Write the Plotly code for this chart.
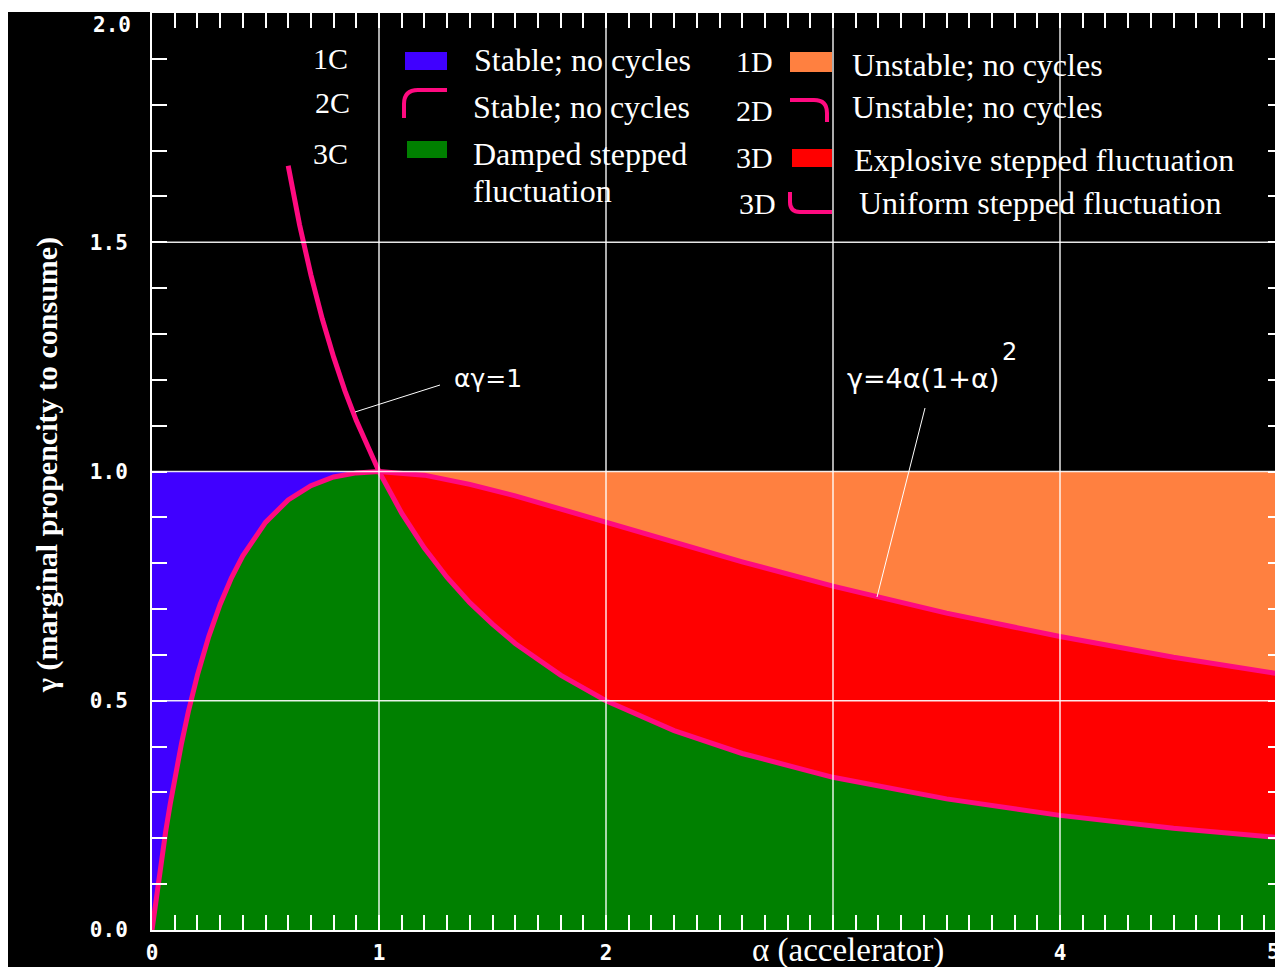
import plotly.graph_objects as go

# ---------------- data ----------------
# boundary curve  gamma = 4a/(1+a)^2
alpha_c = [0, 0.01, 0.02, 0.04, 0.06, 0.08, 0.1, 0.13, 0.16, 0.2, 0.25, 0.3, 0.35, 0.4,
           0.5, 0.6, 0.7, 0.8, 0.9, 1.0, 1.2, 1.4, 1.6, 1.8, 2.0, 2.3, 2.6, 3.0, 3.5,
           4.0, 4.5, 5.0]
gamma_c = [0, 0.039, 0.077, 0.148, 0.214, 0.274, 0.331, 0.407, 0.476, 0.556, 0.64,
           0.710, 0.768, 0.816, 0.889, 0.938, 0.969, 0.988, 0.997, 1.0, 0.992, 0.972,
           0.947, 0.918, 0.889, 0.845, 0.803, 0.75, 0.691, 0.64, 0.595, 0.556]
# boundary curve  alpha*gamma = 1
alpha_h = [0.6, 0.65, 0.7, 0.75, 0.8, 0.85, 0.9, 0.95, 1.0, 1.1, 1.2, 1.3, 1.4, 1.5,
           1.6, 1.8, 2.0, 2.3, 2.6, 3.0, 3.5, 4.0, 4.5, 5.0]
gamma_h = [1.667, 1.538, 1.429, 1.333, 1.25, 1.176, 1.111, 1.053, 1.0, 0.909, 0.833,
           0.769, 0.714, 0.667, 0.625, 0.556, 0.5, 0.435, 0.385, 0.333, 0.286, 0.25,
           0.222, 0.2]
gamma_top = 1.0          # upper limit of the coloured regions
alpha_max = 5.0

x_tick_vals = [0, 1, 2, 3, 4]
x_tick_text = ["0", "1", "2", "", "4"]
y_tick_vals = [0, 0.5, 1.0, 1.5]
y_tick_text = ["0.0", "0.5", "1.0", "1.5"]
y_top_label = "2.0"
x_last_label = "5"

legend_codes = ["1C", "2C", "3C", "1D", "2D", "3D", "3D"]
legend_texts = ["Stable; no cycles", "Stable; no cycles", "Damped stepped",
                "Unstable; no cycles", "Unstable; no cycles",
                "Explosive stepped fluctuation", "Uniform stepped fluctuation"]

# ---------------- styling ----------------
BLUE = "#4000ff"
GREEN = "#008000"
RED = "#ff0000"
ORANGE = "#ff8040"
PINK = "#ff0a80"
WHITE = "white"
SERIF = "Liberation Serif"
MONO = "DejaVu Sans Mono"

W, H = 1275, 959
ML, MR, MT, MB = 144, 0, 5, 37
X_END = 4.9824


def pxp(px):   # page pixel x -> paper
    return (px - 152) / 1131.0


def pyp(py):   # page pixel y -> paper
    return (930 - py) / 917.0


# ---------------- build regions from the curves ----------------
left_a = [a for a in alpha_c if a <= 1]
left_g = [g for a, g in zip(alpha_c, gamma_c) if a <= 1]
right_a = [a for a in alpha_c if a >= 1]
right_g = [g for a, g in zip(alpha_c, gamma_c) if a >= 1]
hr_a = [a for a in alpha_h if a >= 1]
hr_g = [g for a, g in zip(alpha_h, gamma_h) if a >= 1]

fig = go.Figure()


def region(xs, ys, color):
    fig.add_trace(go.Scatter(x=xs, y=ys, fill="toself", fillcolor=color, mode="lines",
                             line=dict(width=0, color=color), hoverinfo="skip",
                             showlegend=False))


# blue: above curve, alpha < 1
region(left_a + [0], left_g + [gamma_top], BLUE)
# green: below curve (alpha<1) and below hyperbola (alpha>1)
region(left_a + hr_a + [alpha_max, 0], left_g + hr_g + [0, 0], GREEN)
# red: between hyperbola and curve, alpha > 1
region(hr_a + right_a[::-1], hr_g + right_g[::-1], RED)
# orange: between curve and 1, alpha > 1
region(right_a + [alpha_max], right_g + [gamma_top], ORANGE)

# pink boundary curves
fig.add_trace(go.Scatter(x=alpha_c, y=gamma_c, mode="lines",
                         line=dict(color=PINK, width=5), hoverinfo="skip", showlegend=False))
fig.add_trace(go.Scatter(x=alpha_h, y=gamma_h, mode="lines",
                         line=dict(color=PINK, width=5), hoverinfo="skip", showlegend=False))

shapes = []
# grid lines (above fills)
for xv in [1, 2, 3, 4]:
    shapes.append(dict(type="line", xref="x", yref="y", x0=xv, x1=xv, y0=0, y1=2,
                       line=dict(color="rgba(255,255,255,0.9)", width=1.5), layer="above"))
for yv in [0.5, 1.0, 1.5]:
    shapes.append(dict(type="line", xref="x", yref="y", x0=0, x1=alpha_max, y0=yv, y1=yv,
                       line=dict(color="rgba(255,255,255,0.9)", width=1.5), layer="above"))

# leader lines
shapes.append(dict(type="line", xref="paper", yref="paper", x0=pxp(355), y0=pyp(412),
                   x1=pxp(440), y1=pyp(385), line=dict(color=WHITE, width=1), layer="above"))
shapes.append(dict(type="line", xref="paper", yref="paper", x0=pxp(925), y0=pyp(408),
                   x1=pxp(877), y1=pyp(597), line=dict(color=WHITE, width=1), layer="above"))

# top white strip of page
shapes.append(dict(type="rect", xref="paper", yref="paper", x0=pxp(0), x1=1.01,
                   y0=pyp(12), y1=pyp(0), fillcolor=WHITE, line=dict(width=0), layer="below"))


def rect_px(x0, y0, x1, y1, color):
    shapes.append(dict(type="rect", xref="paper", yref="paper", x0=pxp(x0), x1=pxp(x1),
                       y0=pyp(y1), y1=pyp(y0), fillcolor=color, line=dict(width=0),
                       layer="above"))


def path_px(cmds):
    parts = []
    for c in cmds:
        op = c[0]
        nums = c[1:]
        pts = []
        for i in range(0, len(nums), 2):
            pts.append("%.5f,%.5f" % (pxp(nums[i]), pyp(nums[i + 1])))
        parts.append(op + " " + " ".join(pts))
    shapes.append(dict(type="path", xref="paper", yref="paper", path=" ".join(parts),
                       line=dict(color=PINK, width=4), layer="above"))


# legend swatches
rect_px(405, 52, 447, 70, BLUE)
path_px([("M", 404, 118), ("L", 404, 104), ("Q", 404, 90, 418, 90), ("L", 447, 90)])
rect_px(407, 141, 447, 158, GREEN)
rect_px(790, 52, 832, 72, ORANGE)
path_px([("M", 790, 100), ("L", 814, 100), ("Q", 827, 100, 827, 113), ("L", 827, 122)])
rect_px(792, 149, 832, 167, RED)
path_px([("M", 790, 192), ("L", 790, 202), ("Q", 790, 212, 800, 212), ("L", 832, 212)])

annotations = []


def text_px(x, y, txt, size=32, family=SERIF, xanchor="left", weight="normal", angle=0):
    annotations.append(dict(xref="paper", yref="paper", x=pxp(x), y=pyp(y), text=txt,
                            showarrow=False, xanchor=xanchor, yanchor="middle",
                            textangle=angle,
                            font=dict(family=family, size=size, color=WHITE, weight=weight)))


code_pos = [(311, 58), (313, 103), (311, 153), (734, 62), (734, 111), (734, 158), (737, 203)]
for (cx, cy), code in zip(code_pos, legend_codes):
    text_px(cx, cy, code, size=30)

text_pos = [(472, 60), (471, 107), (471, 154), (850, 65), (850, 107), (852, 160), (857, 203)]
for (tx, ty), t in zip(text_pos, legend_texts):
    text_px(tx, ty, t, size=32)
text_px(471, 191, "fluctuation", size=32)

# curve labels
text_px(452, 378, "αγ=1", size=25, family="DejaVu Sans")
text_px(845, 378, "γ=4α(1+α)", size=27, family="DejaVu Sans")
text_px(1000, 352, "2", size=24, family="DejaVu Sans")

# axis titles
text_px(848, 951, "α (accelerator)", size=33, xanchor="center")
text_px(47, 465, "γ (marginal propencity to consume)", size=30, xanchor="center",
        weight="bold", angle=-90)
# tick labels that sit off the regular tick positions
text_px(1282, 952, x_last_label, size=21, family=MONO, xanchor="right", weight="bold")
text_px(133, 25, y_top_label, size=21, family=MONO, xanchor="right", weight="bold")

tickfont = dict(family=MONO, size=21, color=WHITE, weight="bold")

fig.update_layout(
    width=W, height=H,
    margin=dict(l=ML, r=MR, t=MT, b=MB, pad=0),
    paper_bgcolor="black", plot_bgcolor="black",
    showlegend=False,
    shapes=shapes, annotations=annotations,
    xaxis=dict(range=[0, X_END], tickmode="array", tickvals=x_tick_vals,
               ticktext=x_tick_text, showgrid=False, zeroline=False,
               showline=True, linecolor=WHITE, linewidth=2, mirror="ticks",
               ticks="inside", ticklen=15, tickwidth=2, tickcolor=WHITE,
               minor=dict(tickmode="linear", tick0=0, dtick=0.1, ticks="inside",
                          ticklen=15, tickwidth=2, tickcolor=WHITE, showgrid=False),
               tickfont=tickfont, ticklabelstandoff=3, layer="above traces",
               fixedrange=True, automargin=False),
    yaxis=dict(range=[0, 2], tickmode="array", tickvals=y_tick_vals,
               ticktext=y_tick_text, showgrid=False, zeroline=False,
               showline=True, linecolor=WHITE, linewidth=2, mirror="ticks",
               ticks="inside", ticklen=15, tickwidth=2, tickcolor=WHITE,
               minor=dict(tickmode="linear", tick0=0, dtick=0.1, ticks="inside",
                          ticklen=15, tickwidth=2, tickcolor=WHITE, showgrid=False),
               tickfont=tickfont, ticklabelstandoff=18, layer="above traces",
               fixedrange=True, automargin=False),
)

fig.write_html("out.html")
